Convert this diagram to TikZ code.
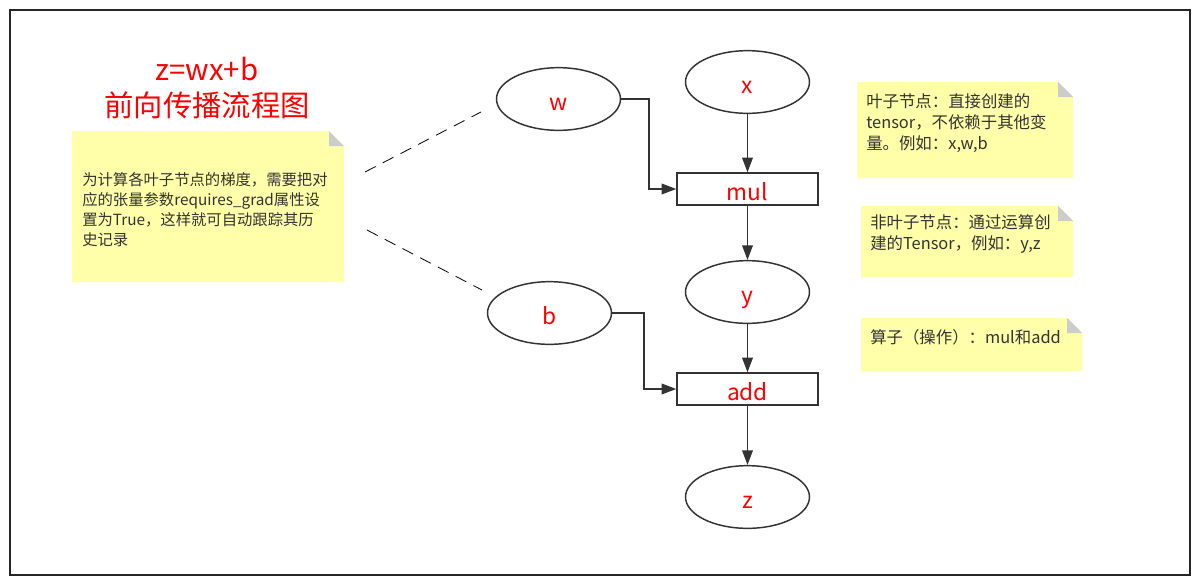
\documentclass[tikz,border=0pt]{standalone}
\usepackage{fontspec}
\setmainfont{Noto Sans CJK SC}
\usetikzlibrary{shapes.geometric,arrows.meta}
\definecolor{notey}{RGB}{255,255,170}
\definecolor{foldg}{RGB}{204,204,204}
\definecolor{lineg}{RGB}{51,51,51}
\definecolor{txtg}{RGB}{51,51,51}
\begin{document}
\begin{tikzpicture}[x=0.75pt,y=-0.75pt,
  ell/.style={draw=lineg,line width=1.1pt,ellipse,minimum width=93pt,minimum height=47pt,inner sep=0pt,text=red,font=\fontsize{17}{20}\selectfont,text height=16.5pt,text depth=0pt},
  opbox/.style={draw=lineg,line width=1.1pt,rectangle,minimum width=105.75pt,minimum height=24pt,inner sep=0pt,text=red,font=\fontsize{17}{20}\selectfont,text height=16.5pt,text depth=0pt},
  conn/.style={draw=lineg,line width=1.2pt,-{Triangle[length=11pt,width=8pt]}},
  dashln/.style={draw=black,line width=0.6pt,dash pattern=on 9pt off 6pt},
  notetext/.style={anchor=west,align=left,inner sep=0pt,text=txtg},
  titletext/.style={align=center,text=red,inner sep=0pt,font=\fontsize{22}{26.5}\selectfont}
]
\useasboundingbox (0,0) rectangle (1200,583);
\fill[white] (0,0) rectangle (1200,583);
\draw[black!85,line width=1.1pt] (10,10) rectangle (1190,575);

% notes
\newcommand{\stickynote}[4]{%
  \fill[notey] (#1,#2) -- (#3-15,#2) -- (#3,#2+15) -- (#3,#4) -- (#1,#4) -- cycle;
  \fill[foldg] (#3-15,#2) -- (#3,#2+15) -- (#3-15,#2+15) -- cycle;}
\stickynote{72}{131}{344}{282}
\stickynote{857}{82}{1073}{178}
\stickynote{861}{206}{1073}{277}
\stickynote{861}{318}{1082}{371}

% title
\node[titletext] (title) at (207,88) {z=wx+b\\前向传播流程图};

% note texts
\node[notetext,font=\fontsize{11.5}{15}\selectfont] (n1) at (82,210)
  {为计算各叶子节点的梯度，需要把对\\应的张量参数requires\_grad属性设\\置为True，这样就可自动跟踪其历\\史记录};
\node[notetext,font=\fontsize{12.3}{15.75}\selectfont] (n2) at (866,123)
  {叶子节点：直接创建的\\tensor，不依赖于其他变\\量。例如：x,w,b};
\node[notetext,font=\fontsize{12.3}{15.75}\selectfont] (n3) at (870,233.5)
  {非叶子节点：通过运算创\\建的Tensor，例如：y,z};
\node[notetext,font=\fontsize{12.3}{15.75}\selectfont] (n4) at (870,337)
  {算子（操作）：mul和add};

% graph nodes
\node[ell] (w) at (558.5,99) {w};
\node[ell] (x) at (747.5,82) {x};
\node[opbox] (mul) at (747.5,189) {mul};
\node[ell] (y) at (747.5,292) {y};
\node[ell] (b) at (549.5,313) {b};
\node[opbox] (add) at (747.5,389) {add};
\node[ell] (z) at (747.5,497) {z};

% connectors
\draw[conn] (x) -- (mul);
\draw[conn] (w.east) -- ++(28,0) |- (mul.west);
\draw[conn] (mul) -- (y);
\draw[conn] (y) -- (add);
\draw[conn] (b.east) -- ++(32,0) |- (add.west);
\draw[conn] (add) -- (z);

% dashed links
\coordinate (d1a) at (365,172);
\coordinate (d1b) at (481,112);
\coordinate (d2a) at (367,230);
\coordinate (d2b) at (482,290);
\draw[dashln] (d1a) -- (d1b);
\draw[dashln] (d2a) -- (d2b);
\end{tikzpicture}
\end{document}
